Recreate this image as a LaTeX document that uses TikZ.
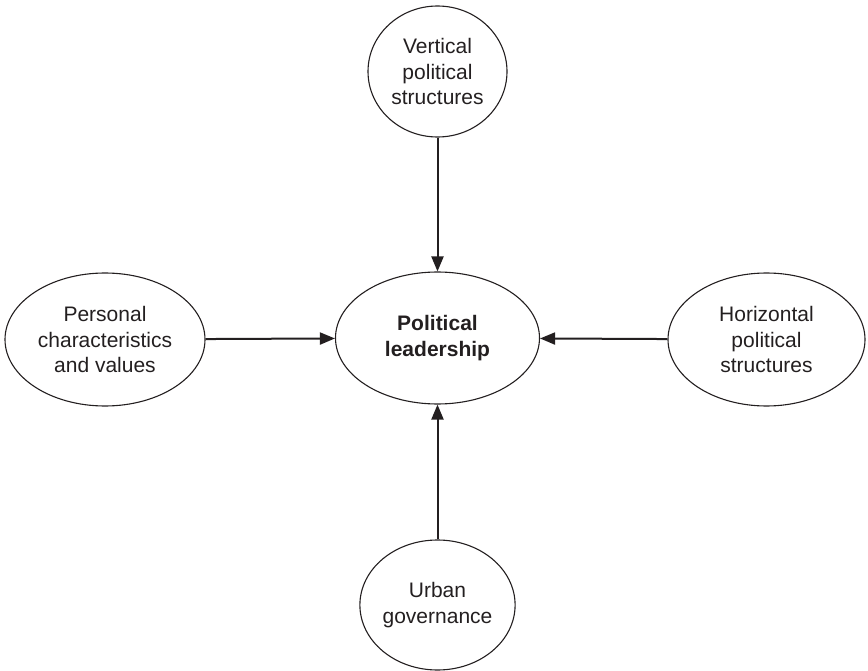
\documentclass[tikz,border=0pt]{standalone}
\usepackage{fontspec}
\setmainfont{Liberation Sans}
\usetikzlibrary{arrows.meta,shapes.geometric}
\definecolor{ink}{HTML}{231F20}
\begin{document}
\begin{tikzpicture}[x=1pt,y=-1pt,
  bubble/.style={ellipse,draw=ink,line width=1.1pt,inner sep=0pt,align=center,
    text=ink,font=\fontsize{21}{25.3}\selectfont},
  link/.style={draw=ink,line width=2pt,-{Triangle[length=15pt,width=12pt]}}]
\useasboundingbox (0,0) rectangle (868,671);
\node[bubble,minimum width=204pt,minimum height=132pt] (lead) at (437.5,338)
  {\bfseries Political\\\bfseries leadership};
\node[bubble,minimum width=139pt,minimum height=131pt] (vert) at (437.5,71.5)
  {Vertical\\political\\structures};
\node[bubble,minimum width=200pt,minimum height=133pt] (pers) at (105,339.5)
  {Personal\\characteristics\\and values};
\node[bubble,minimum width=197pt,minimum height=133pt] (horiz) at (766.5,339.5)
  {Horizontal\\political\\structures};
\node[bubble,minimum width=140pt,minimum height=130pt] (urban) at (437.5,605)
  {Urban\\governance};
\draw[link] (vert) -- (lead);
\draw[link] (pers) -- (lead);
\draw[link] (horiz) -- (lead);
\draw[link] (urban) -- (lead);
\end{tikzpicture}
\end{document}
